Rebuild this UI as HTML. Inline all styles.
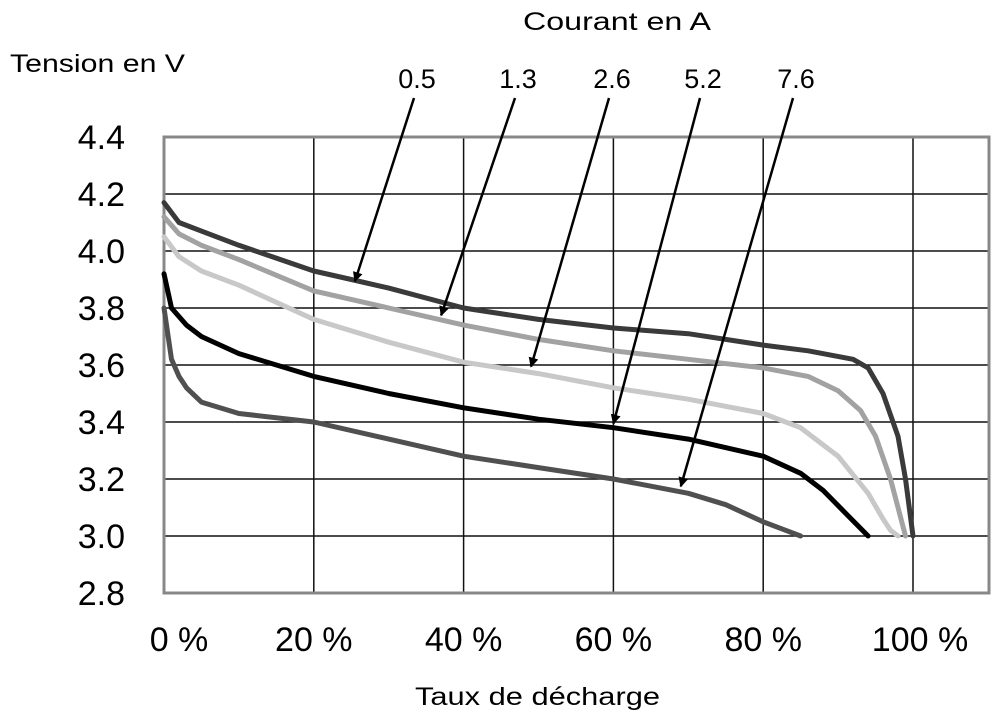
<!DOCTYPE html>
<html><head><meta charset="utf-8"><style>
body{margin:0;background:#fff}
svg{display:block;font-family:"Liberation Sans",sans-serif}
</style></head><body>
<svg id="chart" width="1000" height="726">
<text x="523" y="30" font-size="25" textLength="188" lengthAdjust="spacingAndGlyphs">Courant en A</text>
<text x="10" y="72" font-size="25" textLength="175" lengthAdjust="spacingAndGlyphs">Tension en V</text>
<text x="415" y="705" font-size="25" textLength="245" lengthAdjust="spacingAndGlyphs">Taux de décharge</text>
<g id="grid"></g><g id="series"></g><g id="arrows"></g>
</svg>
<script>
const xTicks=[0,20,40,60,80,100];
const yTicks=[2.8,3.0,3.2,3.4,3.6,3.8,4.0,4.2,4.4];
const currents=["0.5","1.3","2.6","5.2","7.6"];
const xs05=[0,2,5,10,20,25,30,40,50,60,70,80,86,92,94,96,98,99,100];
const v05=[4.17,4.10,4.07,4.02,3.93,3.90,3.87,3.80,3.76,3.73,3.71,3.67,3.65,3.62,3.59,3.50,3.35,3.20,3.0];
const xs13=[0,2,5,10,20,30,40,50,60,70,80,86,90,93,95,97,98,99];
const v13=[4.12,4.06,4.02,3.97,3.86,3.80,3.74,3.69,3.65,3.62,3.59,3.56,3.51,3.44,3.35,3.20,3.10,3.0];
const xs26=[0,2,5,10,20,30,40,50,60,70,80,85,90,94,96,97,98];
const v26=[4.05,3.98,3.93,3.88,3.76,3.68,3.61,3.57,3.52,3.48,3.43,3.38,3.28,3.15,3.06,3.02,3.0];
const xs52=[0,1,3,5,10,20,30,40,50,60,70,80,85,88,91,94];
const v52=[3.92,3.80,3.74,3.70,3.64,3.56,3.50,3.45,3.41,3.38,3.34,3.28,3.22,3.16,3.08,3.0];
const xs76=[0,1,2,3,5,10,20,30,40,50,60,70,75,80,83,85];
const v76=[3.80,3.62,3.56,3.52,3.47,3.43,3.40,3.34,3.28,3.24,3.20,3.15,3.11,3.05,3.02,3.0];
const colors=["#3a3a3a","#a2a2a2","#c8c8c8","#000","#505050"];
const X=p=>164+p*7.49, Y=v=>137+(4.4-v)/0.2*57;
const NS="http://www.w3.org/2000/svg";
const mk=(t,a,par)=>{const e=document.createElementNS(NS,t);for(const k in a)e.setAttribute(k,a[k]);par.appendChild(e);return e;};
const g=document.getElementById('grid');
xTicks.forEach(p=>{const l=mk('line',{x1:X(p),x2:X(p),y1:Y(4.4),y2:Y(2.8),stroke:'#111','stroke-width':1.5},g);


const t=mk('text',{x:X(p)+(p==100?7:(p==0?15:0)),y:651,'font-size':34,'text-anchor':'middle'},g);t.textContent=p+' %';

});
yTicks.forEach(v=>{const l=mk('line',{x1:X(0),x2:989,y1:Y(v),y2:Y(v),stroke:'#111','stroke-width':1.5},g);


const t=mk('text',{x:125,y:Y(v)+12,'font-size':34,'text-anchor':'end'},g);t.textContent=v.toFixed(1);

});
const b=mk('rect',{x:X(0),y:Y(4.4),width:989-X(0),height:Y(2.8)-Y(4.4),fill:'none',stroke:'#888','stroke-width':3},g);


const s=document.getElementById('series');
[[xs05,v05],[xs13,v13],[xs26,v26],[xs52,v52],[xs76,v76]].forEach((d,i)=>{
const pts=d[0].map((x,j)=>X(x).toFixed(1)+','+Y(d[1][j]).toFixed(1)).join(' ');
const pl=mk('polyline',{points:pts,fill:'none',stroke:colors[i],'stroke-width':5,'stroke-linejoin':'round','stroke-linecap':'round'},s);

});
const a=document.getElementById('arrows');
const defs=mk('defs',{},a);const m=mk('marker',{id:'ah',markerWidth:10,markerHeight:10,refX:9,refY:5,orient:'auto',markerUnits:'userSpaceOnUse'},defs);
mk('path',{d:'M0,0 L10,5 L0,10 z',fill:'#000'},m);
const labelX=[417,518,612,703,796];
const targets=[[25.5,3.88],[37,3.76],[49,3.58],[60,3.38],[69,3.16]];
labelX.forEach((lx,i)=>{
const t=mk('text',{x:lx,y:88,'font-size':27,'text-anchor':'middle'},a);t.textContent=currents[i];


const l=mk('line',{x1:lx-3,y1:98,x2:X(targets[i][0]),y2:Y(targets[i][1])-4,stroke:'#000','stroke-width':2.5,'marker-end':'url(#ah)'},a);

});
</script>
</body></html>
